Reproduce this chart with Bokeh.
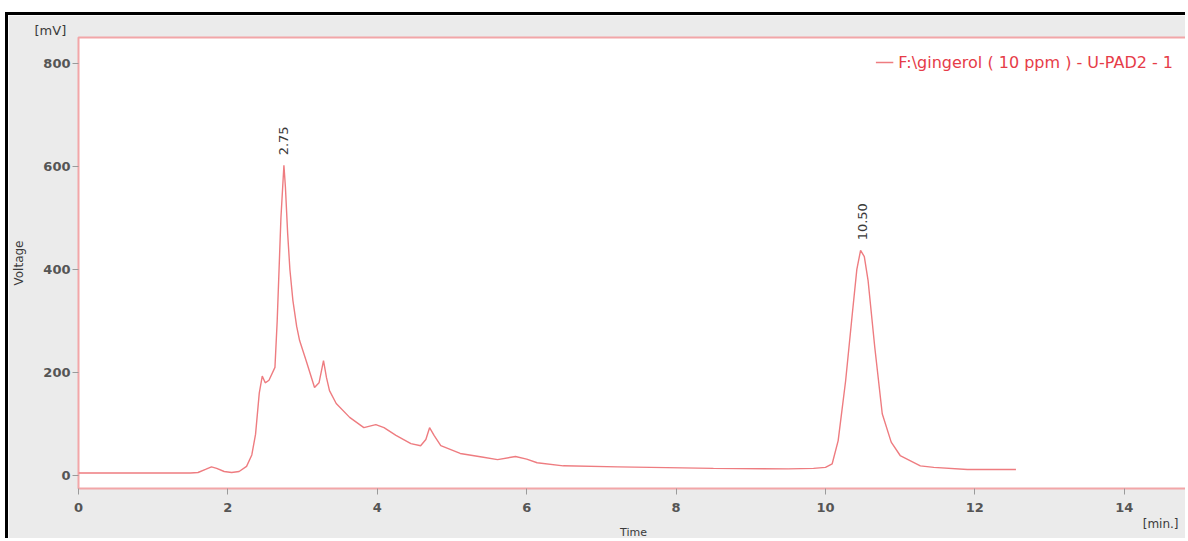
from bokeh.plotting import figure
from bokeh.models import Range1d, Label, FixedTicker, Legend, LegendItem, Title
from bokeh.embed import file_html
from bokeh.resources import INLINE

# chromatogram data (time in min, voltage in mV)
time_min = [0.0, 0.5, 1.0, 1.5, 1.6, 1.7, 1.78, 1.85, 1.95, 2.05, 2.15, 2.25, 2.32, 2.37,
            2.42, 2.46, 2.5, 2.55, 2.63, 2.66, 2.71, 2.75, 2.77, 2.8, 2.83, 2.87, 2.92, 2.96,
            3.05, 3.16, 3.22, 3.28, 3.32, 3.36, 3.45, 3.63, 3.82, 3.98, 4.09, 4.25, 4.45,
            4.58, 4.65, 4.70, 4.76, 4.85, 5.11, 5.4, 5.61, 5.85, 6.0, 6.14, 6.49, 7.22, 7.66,
            8.5, 9.5, 9.84, 10.0, 10.09, 10.17, 10.27, 10.36, 10.42, 10.47, 10.52, 10.57,
            10.66, 10.76, 10.88, 11.0, 11.27, 11.45, 11.9, 12.55]
voltage_mv = [5, 5, 5, 5, 6, 12, 17, 14, 8, 6, 8, 18, 40, 80,
              160, 193, 180, 185, 210, 300, 500, 602, 560, 470, 400, 340, 290, 262,
              222, 171, 180, 223, 190, 165, 140, 113, 93, 99, 93, 78, 62,
              58, 70, 93, 78, 58, 43, 36, 31, 37, 32, 25, 19, 17, 16,
              14, 13, 14, 16, 23, 68, 184, 315, 400, 437, 425, 379,
              249, 120, 65, 39, 19, 16, 12, 12]

peak_times = [2.75, 10.50]
peak_heights = [602, 437]
peak_labels = ["2.75", "10.50"]

x_ticks = [0, 2, 4, 6, 8, 10, 12, 14]
y_ticks = [0, 200, 400, 600, 800]
series_name = "F:\\gingerol ( 10 ppm ) - U-PAD2 - 1"

LINE = "#ee7c80"
GREY_BG = "#ebebeb"
TXT = "#3a3a3a"
FONT = "DejaVu Sans"

p = figure(width=1180, height=526, output_backend="svg", toolbar_location=None,
           x_range=Range1d(0, 14.86), y_range=Range1d(-25, 850),
           min_border_left=70, min_border_right=0, min_border_top=22, min_border_bottom=53)
p.styles = {"border-left": "3px solid black", "border-top": "3px solid black",
            "margin-left": "5px", "margin-top": "12px"}

p.background_fill_color = "white"
p.border_fill_color = GREY_BG
p.outline_line_color = "#f2a6a8"
p.outline_line_width = 2
p.grid.visible = False

# unit label of the y axis, above the frame at its left
p.title.text = "[mV]"
p.title.align = "left"
p.title.offset = -44
p.title.standoff = 0
p.title.text_font = FONT
p.title.text_font_size = "13px"
p.title.text_font_style = "normal"
p.title.text_color = TXT

for ax in (p.xaxis[0], p.yaxis[0]):
    ax.axis_line_color = None
    ax.major_tick_line_color = "#9a9a9a"
    ax.major_tick_out = 6
    ax.major_tick_in = 0
    ax.minor_tick_line_color = None
    ax.major_label_text_font = FONT
    ax.major_label_text_font_size = "13px"
    ax.major_label_text_font_style = "bold"
    ax.major_label_text_color = "#555555"
    ax.axis_label_text_font = FONT
    ax.axis_label_text_font_size = "12px"
    ax.axis_label_text_font_style = "normal"
    ax.axis_label_text_color = TXT

p.xaxis.ticker = FixedTicker(ticks=x_ticks)
p.yaxis.ticker = FixedTicker(ticks=y_ticks)
p.xaxis.major_label_standoff = 8
p.yaxis.major_label_standoff = 2
p.yaxis.axis_label = "Voltage"
p.yaxis.axis_label_standoff = 14

# x unit label and x axis title, stacked under the axis
p.add_layout(Title(text="[min.]", align="right", offset=10, standoff=0,
                   text_font=FONT, text_font_size="12px", text_font_style="normal",
                   text_color=TXT), "below")
p.add_layout(Title(text="Time", align="center", offset=-10, standoff=-13,
                   text_font=FONT, text_font_size="11px", text_font_style="normal",
                   text_color=TXT), "below")

r = p.line(time_min, voltage_mv, line_color=LINE, line_width=1.4)

legend = Legend(items=[LegendItem(label=series_name, renderers=[r])],
                location="top_right", border_line_color=None,
                background_fill_alpha=0, margin=15, padding=14,
                label_text_font=FONT, label_text_font_size="16px",
                label_text_color="#e63c48", glyph_width=18, label_standoff=5)
p.add_layout(legend)

for t, h, s in zip(peak_times, peak_heights, peak_labels):
    p.add_layout(Label(x=t, y=h, text=s, angle=1.5708, y_offset=10,
                       text_align="left", text_baseline="middle",
                       text_font=FONT, text_font_size="13px", text_color=TXT))

open("out.html", "w").write(file_html(p, INLINE))
